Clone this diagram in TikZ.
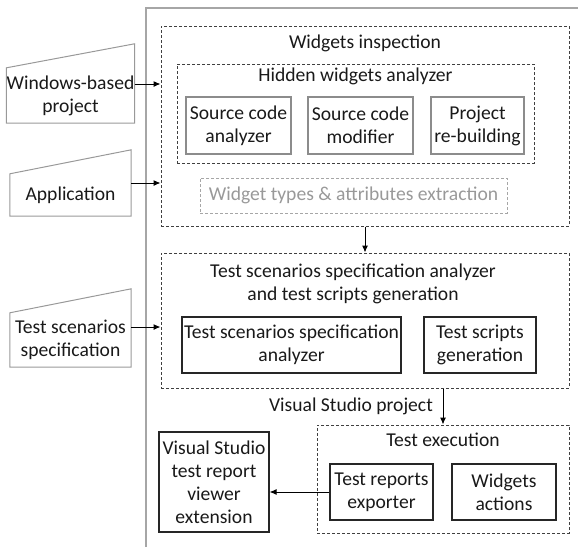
\documentclass[tikz,border=0pt]{standalone}
\usepackage{fontspec}
\setmainfont{Carlito}
\usetikzlibrary{arrows.meta,calc}
\begin{document}
\begin{tikzpicture}[x=1pt,y=-1pt,
  every node/.style={font=\fontsize{19.6}{23}\selectfont, text=black!90, align=center, inner sep=0pt},
  dbox/.style={draw=black!75, line width=1pt, dash pattern=on 3pt off 2pt, rectangle},
  gbox/.style={draw=black!45, line width=1.3pt, rectangle},
  sbox/.style={draw=black!85, line width=1.1pt, rectangle},
  inp/.style={rectangle, minimum width=121pt},
  inpline/.style={draw=black!40, line width=1pt},
  arr/.style={draw=black, line width=1pt, -{Latex[length=7pt,width=6pt]}},
  ttl/.style={}
]
\useasboundingbox (0,0) rectangle (578,547);
% outer frame
\draw[black!35, line width=1.6pt] (146,547) -- (146,8) -- (578,8);

% Widgets inspection
\node[dbox, minimum width=408pt, minimum height=200pt] (wi) at (365,126) {};
\node[ttl] (wit) at (365,43) {Widgets inspection};
\node[dbox, minimum width=357pt, minimum height=99pt] (hwa) at (355.5,113.5) {};
\node[ttl] (hwat) at (355.5,76) {Hidden widgets analyzer};
\node[gbox, minimum width=105pt, minimum height=57pt] (sca) at (238.5,125.5) {Source code\\analyzer};
\node[gbox, minimum width=105pt, minimum height=57pt] (scm) at (360.5,125.5) {Source code\\modifier};
\node[gbox, minimum width=93pt, minimum height=57pt] (prb) at (477.5,125.5) {Project\\re-building};
\node[draw=black!35, line width=1pt, dash pattern=on 3pt off 2pt, minimum width=307pt, minimum height=35pt, text=black!40] (wta) at (353.5,195.5) {Widget types \& attributes extraction};

% Test scenarios analyzer
\node[dbox, minimum width=408pt, minimum height=135pt] (tss) at (365,320.5) {};
\node[ttl] (tsst) at (353,284) {Test scenarios specification analyzer\\and test scripts generation};
\node[sbox, minimum width=219pt, minimum height=56pt] (tsa) at (291.5,345) {Test scenarios specification\\analyzer};
\node[sbox, minimum width=112pt, minimum height=56pt] (tsg) at (480,345) {Test scripts\\generation};

% Test execution
\node[dbox, minimum width=252pt, minimum height=108pt] (te) at (443,479) {};
\node[ttl] (tet) at (443,440) {Test execution};
\node[sbox, minimum width=103pt, minimum height=56pt] (tre) at (381.5,492) {Test reports\\exporter};
\node[sbox, minimum width=104pt, minimum height=56pt] (wa) at (504,492) {Widgets\\actions};
\node[sbox, minimum width=110pt, minimum height=100pt] (vs) at (214,482) {Visual Studio\\test report\\viewer\\extension};
\node (vsp) at (351,406) {Visual Studio project};

% inputs
\node[inp, minimum height=55pt] (wbp) at (70.5,95.5) {Windows-based\\project};
\draw[inpline] (wbp.south west) -- (wbp.south east) -- ([yshift=24pt]wbp.north east) -- (wbp.north west) -- cycle;
\node[inp, minimum height=42pt] (app) at (70.5,195) {Application};
\draw[inpline] (app.south west) -- (app.south east) -- ([yshift=24pt]app.north east) -- (app.north west) -- cycle;
\node[inp, minimum height=54pt] (tsp) at (70.5,340) {Test scenarios\\specification};
\draw[inpline] (tsp.south west) -- (tsp.south east) -- ([yshift=24pt]tsp.north east) -- (tsp.north west) -- cycle;

% connectors
\draw[arr] ([yshift=11.5pt]wbp.east) -- ([yshift=11.5pt]wbp.east -| wi.west);
\draw[arr] ([yshift=12pt]app.east) -- ([yshift=12pt]app.east -| wi.west);
\draw[arr] ([yshift=13pt]tsp.east) -- ([yshift=13pt]tsp.east -| tss.west);
\draw[arr] (wi.south) -- (tss.north);
\draw[arr] (tss.south -| te.north) -- (te.north);
\draw[arr] (tre.west) -- (tre.west -| vs.east);
\end{tikzpicture}
\end{document}
